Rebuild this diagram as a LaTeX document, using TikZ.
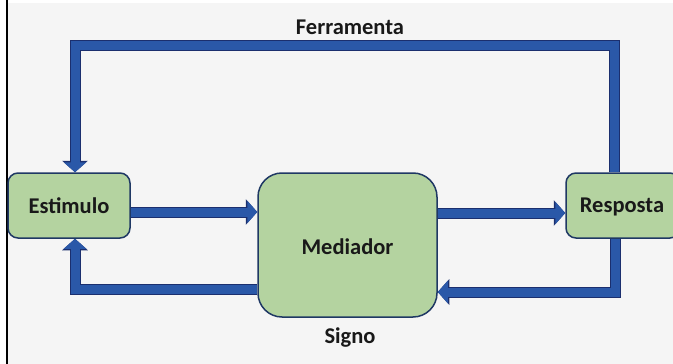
\documentclass[tikz,border=0pt]{standalone}
\usepackage{fontspec}
\setmainfont{Carlito}
\usetikzlibrary{arrows.meta,calc}
\definecolor{bg}{HTML}{F5F5F5}
\definecolor{boxfill}{HTML}{B4D3A0}
\definecolor{boxline}{HTML}{1F3864}
\definecolor{arrblue}{HTML}{2A58A8}
\definecolor{arrline}{HTML}{1B2F6E}
\tikzset{
  box/.style={draw=boxline, line width=1.5pt, fill=boxfill, font=\bfseries\fontsize{22.5}{26}\selectfont, text=black!90, inner sep=0pt},
  conn/.style={line width=9pt, draw=arrblue, line join=miter, line cap=butt,
    -{Triangle[width=22pt,length=10pt]},
    preaction={draw=arrline, line width=11pt, line join=miter, -{Triangle[width=25pt,length=11.5pt]}}},
  lbl/.style={font=\bfseries\fontsize{22.5}{26}\selectfont, text=black!90}
}
\begin{document}
\begin{tikzpicture}[x=1pt,y=-1pt]
\useasboundingbox (0,0) rectangle (673,364);
\fill[white] (0,0) rectangle (673,364);
\fill[bg] (7,3) rectangle (673,364);
\draw[black, line width=1.5pt] (7,0) -- (7,364);
\node[box, rounded corners=10pt, minimum width=122pt, minimum height=65pt] (est) at (69,205.5) {Estimulo};
\node[box, rounded corners=24pt, minimum width=179pt, minimum height=144pt] (med) at (347.5,245) {};
\node[lbl] (medl) at (347.5,247) {Mediador};
\node[box, rounded corners=10pt, minimum width=114pt, minimum height=65pt] (res) at (623,205.5) {};
\node[lbl] (resl) at (622,207) {Resposta};
\node[lbl] (ferr) at (350,27) {Ferramenta};
\node[lbl] (sig) at (350,338) {Signo};
% top loop
\coordinate (tr) at (614,45);
\coordinate (tl) at (75,45);
\draw[conn] (res.north -| tr) -- (tr) -- (tl) -- (est.north -| tl);
% middle arrows
\coordinate (ma) at (0,212);
\coordinate (mb) at (0,213);
\draw[conn] (est.east |- ma) -- (med.west |- ma);
\draw[conn] (med.east |- mb) -- (res.west |- mb);
% bottom right
\coordinate (br) at (615,292);
\draw[conn] (res.south -| br) -- (br) -- (med.east |- br);
% bottom left
\coordinate (bl) at (75,289);
\draw[conn] (med.west |- bl) -- (bl) -- (est.south -| bl);
\end{tikzpicture}
\end{document}
